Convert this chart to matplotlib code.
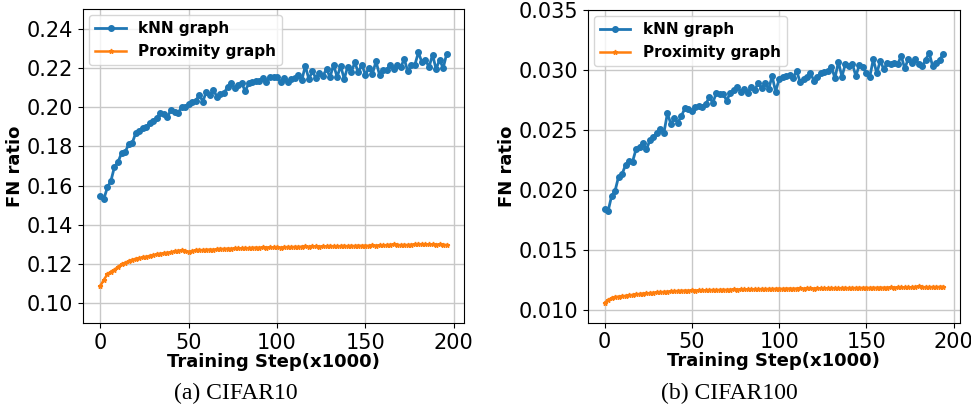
import numpy as np
import matplotlib
matplotlib.use("Agg")
import matplotlib.pyplot as plt

# ---- data ----
knn_c10 = [0.1549, 0.1532, 0.1590, 0.1624, 0.1695, 0.1720, 0.1765, 0.1770, 0.1810, 0.1816,
           0.1867, 0.1879, 0.1896, 0.1900, 0.1918, 0.1930, 0.1947, 0.1970, 0.1964, 0.1952,
           0.1986, 0.1978, 0.1970, 0.2002, 0.2003, 0.2015, 0.2029, 0.2034, 0.2063, 0.2029,
           0.2080, 0.2063, 0.2088, 0.2054, 0.2066, 0.2071, 0.2105, 0.2122, 0.2097, 0.2114,
           0.2122, 0.2083, 0.2122, 0.2128, 0.2134, 0.2134, 0.2148, 0.2131, 0.2156, 0.2156,
           0.2157, 0.2127, 0.2149, 0.2127, 0.2144, 0.2149, 0.2166, 0.2137, 0.2212, 0.2144,
           0.2183, 0.2149, 0.2174, 0.2161, 0.2195, 0.2154, 0.2217, 0.2154, 0.2212, 0.2144,
           0.2208, 0.2178, 0.2229, 0.2178, 0.2217, 0.2166, 0.2200, 0.2171, 0.2234, 0.2166,
           0.2191, 0.2191, 0.2217, 0.2195, 0.2217, 0.2205, 0.2246, 0.2183, 0.2217, 0.2217,
           0.2280, 0.2229, 0.2242, 0.2205, 0.2268, 0.2195, 0.2242, 0.2200, 0.2273]
prox_c10 = [0.1087, 0.1118, 0.1147, 0.1160, 0.1169, 0.1185, 0.1197, 0.1205, 0.1214, 0.1220,
            0.1226, 0.1228, 0.1234, 0.1236, 0.1241, 0.1244, 0.1249, 0.1252, 0.1254, 0.1257,
            0.1259, 0.1263, 0.1267, 0.1268, 0.1265, 0.1262, 0.1265, 0.1270, 0.1271, 0.1270,
            0.1272, 0.1273, 0.1272, 0.1275, 0.1277, 0.1276, 0.1278, 0.1277, 0.1279, 0.1280,
            0.1279, 0.1281, 0.1280, 0.1282, 0.1283, 0.1282, 0.1284, 0.1283, 0.1285, 0.1284,
            0.1284, 0.1283, 0.1285, 0.1286, 0.1285, 0.1287, 0.1286, 0.1288, 0.1289, 0.1287,
            0.1289, 0.1290, 0.1288, 0.1290, 0.1289, 0.1291, 0.1290, 0.1289, 0.1291, 0.1292,
            0.1290, 0.1292, 0.1291, 0.1293, 0.1292, 0.1293, 0.1292, 0.1294, 0.1293, 0.1295,
            0.1294, 0.1296, 0.1297, 0.1300, 0.1298, 0.1295, 0.1297, 0.1296, 0.1298, 0.1299,
            0.1301, 0.1300, 0.1299, 0.1300, 0.1299, 0.1298, 0.1299, 0.1298, 0.1296]
knn_c100 = [0.01839, 0.01825, 0.01950, 0.01994, 0.02111, 0.02133, 0.02208, 0.02244, 0.02236, 0.02339,
            0.02361, 0.02389, 0.02339, 0.02417, 0.02444, 0.02472, 0.02506, 0.02478, 0.02639, 0.02550,
            0.02597, 0.02561, 0.02617, 0.02680, 0.02672, 0.02661, 0.02694, 0.02700, 0.02694, 0.02717,
            0.02772, 0.02728, 0.02806, 0.02800, 0.02800, 0.02744, 0.02811, 0.02833, 0.02861, 0.02820,
            0.02839, 0.02811, 0.02861, 0.02833, 0.02889, 0.02847, 0.02894, 0.02839, 0.02950, 0.02820,
            0.02922, 0.02944, 0.02950, 0.02958, 0.02931, 0.02994, 0.02903, 0.02922, 0.02939, 0.02972,
            0.02911, 0.02939, 0.02972, 0.02986, 0.02994, 0.03028, 0.02931, 0.03069, 0.02944, 0.03050,
            0.03033, 0.03050, 0.02950, 0.03042, 0.03028, 0.02972, 0.02944, 0.03089, 0.02972, 0.03078,
            0.03006, 0.03061, 0.03050, 0.03061, 0.03050, 0.03117, 0.03014, 0.03089, 0.03061, 0.03089,
            0.03050, 0.03033, 0.03083, 0.03144, 0.03033, 0.03061, 0.03083, 0.03133]
prox_c100 = [0.01060, 0.01083, 0.01100, 0.01108, 0.01112, 0.01115, 0.01118, 0.01122, 0.01126, 0.01130,
             0.01134, 0.01137, 0.01139, 0.01141, 0.01144, 0.01147, 0.01149, 0.01151, 0.01153, 0.01155,
             0.01157, 0.01159, 0.01160, 0.01162, 0.01161, 0.01163, 0.01162, 0.01164, 0.01165, 0.01164,
             0.01166, 0.01167, 0.01166, 0.01168, 0.01169, 0.01168, 0.01170, 0.01171, 0.01170, 0.01172,
             0.01171, 0.01173, 0.01172, 0.01174, 0.01173, 0.01175, 0.01174, 0.01176, 0.01175, 0.01177,
             0.01178, 0.01176, 0.01178, 0.01179, 0.01177, 0.01179, 0.01180, 0.01178, 0.01180, 0.01181,
             0.01179, 0.01181, 0.01180, 0.01182, 0.01181, 0.01183, 0.01182, 0.01181, 0.01183, 0.01184,
             0.01182, 0.01184, 0.01183, 0.01185, 0.01184, 0.01185, 0.01184, 0.01186, 0.01185, 0.01187,
             0.01186, 0.01187, 0.01188, 0.01187, 0.01189, 0.01190, 0.01188, 0.01190, 0.01189, 0.01192,
             0.01198, 0.01190, 0.01191, 0.01190, 0.01192, 0.01191, 0.01193, 0.01194]
step_interval = 2  # x1000 steps between checkpoints
labels = ["kNN graph", "Proximity graph"]
captions = ["(a) CIFAR10", "(b) CIFAR100"]
xlabel = "Training Step(x1000)"
ylabel = "FN ratio"

fig = plt.figure(figsize=(9.71, 4.04), dpi=100)
W, H = 971, 404
def box(x0, x1, ytop, ybot):
    return [x0 / W, 1 - ybot / H, (x1 - x0) / W, (ybot - ytop) / H]

ax1 = fig.add_axes(box(83, 464, 9, 323.3))
ax2 = fig.add_axes(box(587.7, 960, 10, 322.7))

panels = [
    (ax1, knn_c10, prox_c10, (0.0896, 0.2502), [0.10, 0.12, 0.14, 0.16, 0.18, 0.20, 0.22, 0.24], "{:.2f}"),
    (ax2, knn_c100, prox_c100, (0.00894, 0.035), [0.010, 0.015, 0.020, 0.025, 0.030, 0.035], "{:.3f}"),
]
for ax, knn, prox, ylim, yt, fmt in panels:
    xk = np.arange(len(knn)) * step_interval
    xp = np.arange(len(prox)) * step_interval
    ax.plot(xk, knn, color="#1f77b4", lw=2, marker="o", ms=4, label=labels[0])
    ax.plot(xp, prox, color="#ff7f0e", lw=1.8, marker="*", ms=3.5, label=labels[1])
    ax.set_ylim(*ylim)
    ax.set_yticks(yt)
    ax.set_yticklabels([fmt.format(v) for v in yt])
    ax.set_xticks([0, 50, 100, 150, 200])
    ax.tick_params(labelsize=15)
    ax.grid(True, color="#c8c8c8", lw=1.0)
    ax.set_axisbelow(True)
    ax.set_xlabel(xlabel, fontsize=13, fontweight="bold", labelpad=0)
    ax.set_ylabel(ylabel, fontsize=13, fontweight="bold", labelpad=2)
    ax.legend(loc="upper left", prop={"weight": "bold", "size": 11}, borderaxespad=0.4)

fig.text(236 / W, 1 - 393 / H, captions[0], ha="center", va="center",
         fontsize=17, family="Liberation Serif")
fig.text(729 / W, 1 - 393 / H, captions[1], ha="center", va="center",
         fontsize=17, family="Liberation Serif")

fig.savefig("out.png", dpi=100)
